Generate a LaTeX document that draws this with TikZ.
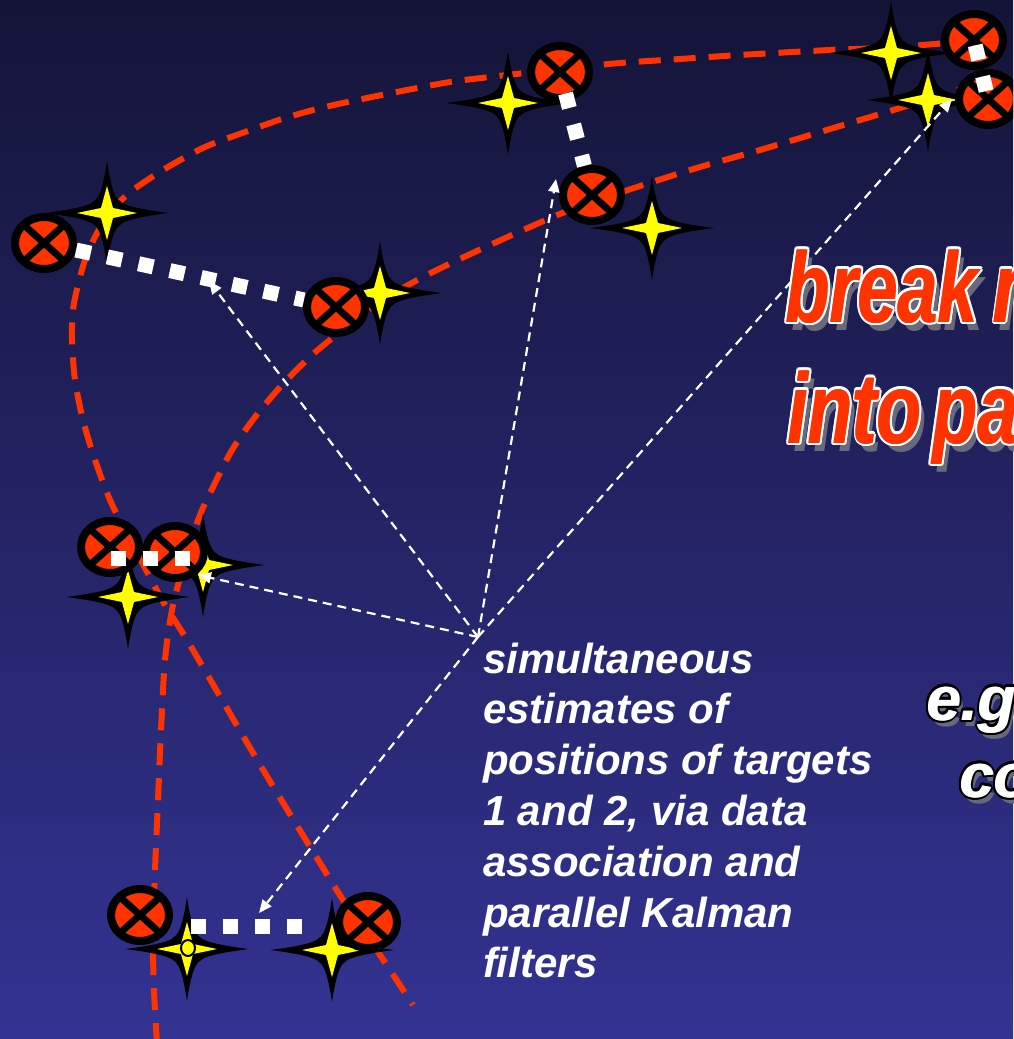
\documentclass[tikz,border=0pt]{standalone}
\usepackage{fontspec}
\setsansfont{Liberation Sans}
\usetikzlibrary{shapes.geometric,arrows.meta,calc}
\definecolor{tred}{RGB}{255,51,0}
\definecolor{bgtop}{RGB}{20,20,56}
\definecolor{bgbot}{RGB}{51,51,147}
\definecolor{shd}{RGB}{105,105,125}
\definecolor{tyel}{RGB}{255,255,0}
\newcommand\brkfont{\fontsize{100}{100}\selectfont\sffamily\bfseries\itshape}
\newcommand\egfont{\fontsize{62}{62}\selectfont\sffamily\bfseries\itshape}
\newcommand\notefont{\fontsize{42}{50.8}\selectfont\sffamily\bfseries\itshape}
\newcommand\brktext{\brkfont\scalebox{0.72}[1]{break\hspace{22pt}m}}
\newcommand\intotext{\brkfont\scalebox{0.73}[1]{into\hspace{16pt}pa}}
\begin{document}
\begin{tikzpicture}[x=1pt,y=-1pt,
  track/.style={draw=tred,line width=6pt,dash pattern=on 22pt off 13pt},
  target/.style={ellipse,draw=black,line width=8pt,fill=tred,minimum width=58pt,minimum height=52pt,inner sep=0pt,
    path picture={\draw[black,line width=7pt]
      (path picture bounding box.north west) -- (path picture bounding box.south east)
      (path picture bounding box.north east) -- (path picture bounding box.south west);}},
  sqdots/.style={draw=white,line width=15pt,dash pattern=on 15pt off 17pt},
  est/.style={draw=white,line width=2.2pt,dash pattern=on 9pt off 6pt,-{Triangle[length=13pt,width=11pt]}},
  sparkle/.pic={
    \fill[black] (62,0) .. controls (30,-4) and (16,-8) .. (13,-12) .. controls (8,-15) and (4,-25) .. (0,-52)
      .. controls (-4,-25) and (-8,-15) .. (-13,-12) .. controls (-16,-8) and (-30,-4) .. (-62,0)
      .. controls (-30,4) and (-16,8) .. (-13,12) .. controls (-8,15) and (-4,25) .. (0,52)
      .. controls (4,25) and (8,15) .. (13,12) .. controls (16,8) and (30,4) .. (62,0) -- cycle;
    \fill[tyel] (30,0) -- (6,-5) -- (0,-27) -- (-6,-5) -- (-30,0) -- (-6,5) -- (0,27) -- (6,5) -- cycle;
  },
  txt/.style={anchor=base west,inner sep=0pt,outer sep=0pt}
]
\useasboundingbox (0,0) rectangle (1013,1039);
\begin{scope}
\clip (0,0) rectangle (1013,1039);
\shade[top color=bgtop,bottom color=bgbot] (0,0) rectangle (1013,1039);

% red dashed tracks
\draw[track] plot[smooth] coordinates {(975,40) (935,44) (880,48) (830,50) (740,55) (680,59) (620,63) (560,69) (490,77) (450,82) (407,90) (367,98) (325,107) (285,118) (245,132) (205,147) (168,167) (133,190) (110,212) (95,237) (85,260) (78,285) (73,310) (72,340) (75,380) (83,420) (95,460) (110,500) (125,530) (145,568) (165,605) (190,645) (262,768) (343,900) (380,955) (413,1005)};
\draw[track] plot[smooth] coordinates {(157,1045) (154,990) (153,940) (155,870) (158,800) (161,730) (165,660) (172,610) (185,560) (200,515) (215,483) (232,450) (255,417) (282,385) (312,355) (345,328) (378,303) (410,284) (445,266) (490,245) (530,227) (570,210) (637,187) (700,167) (760,150) (840,126) (900,108) (940,95) (965,88)};

% stars
\pic (s1) at (107,213) {sparkle};
\pic (s2) at (380,293) {sparkle};
\pic (s3) at (508,103) {sparkle};
\pic (s4) at (652,228) {sparkle};
\pic (s5) at (891,53) {sparkle};
\pic (s6) at (928,100) {sparkle};
\pic (s7) at (128,597) {sparkle};
\pic (s8) at (203,565) {sparkle};
\pic (s9) at (187,949) {sparkle};
\pic (s10) at (332,950) {sparkle};
\node[ellipse,fill=tyel,draw=black,line width=2pt,minimum width=14pt,minimum height=16pt,inner sep=0pt] (s9dot) at (188,948) {};

% targets
\node[target] (c1) at (44,243) {};
\node[target] (c2) at (336,307) {};
\node[target] (c3) at (560,72) {};
\node[target] (c4) at (592,195) {};
\node[target] (c5) at (974,40) {};
\node[target] (c6) at (988,99) {};
\node[target] (c7) at (110,547) {};
\node[target] (c8) at (175,552) {};
\node[target] (c9) at (140,915) {};
\node[target] (c10) at (368,922) {};

% estimate arrows
\coordinate (hub) at (478,637);
\coordinate (e1) at (209,281);
\coordinate (e2) at (198,575);
\coordinate (e3) at (556,179);
\coordinate (e4) at (952,99);
\coordinate (e5) at (259,913);
\draw[est] (hub) -- (e1);
\draw[est] (hub) -- (e2);
\draw[est] (hub) -- (e3);
\draw[est] (hub) -- (e4);
\draw[est] (hub) -- (e5);

% square-dotted association lines
\draw[sqdots] (c1) -- (c2);
\draw[sqdots,shorten <=-8pt] (c3) -- (c4);
\draw[sqdots,dash phase=26.5pt] (c5.center) -- (c6.center);
\draw[sqdots] ([shift={(0.5,11)}]c7.center) -- ([shift={(15,6)}]c8.center);
\draw[sqdots] ([shift={(50.5,11)}]c9.center) -- ([shift={(-66.5,4)}]c10.center);

% note text
\node[txt,text=white] (note) at (483,673) {\notefont\parbox[t]{520pt}{\raggedright
simultaneous\\
estimates of\\
positions of targets\\
1 and 2, via data\\
association and\\
parallel Kalman\\
filters}};

% big red title text
\node[txt,text=shd] (brkshd) at (791,330) {\brktext};
\node[txt,text=shd] (intshd) at (793,451) {\intotext};
\foreach \a in {0,30,...,330}{
  \node[txt,text=white] (brko\a) at ($(785.75,322)+(\a:2.6)$) {\brktext};
  \node[txt,text=white] (into\a) at ($(787.75,443)+(\a:2.6)$) {\intotext};
}
\foreach \d in {0,0.75,1.5}{
  \node[txt,text=tred] (brk\d) at ($(785,322)+(\d,0)$) {\brktext};
  \node[txt,text=tred] (int\d) at ($(787,443)+(\d,0)$) {\intotext};
}

% e.g. text
\node[txt,text=shd] (egshd) at (930,726) {\egfont e.g.};
\node[txt,text=shd] (coshd) at (963,803) {\egfont co};
\foreach \a in {0,30,...,330}{
  \node[txt,text=black] (ego\a) at ($(926.5,720)+(\a:2.5)$) {\egfont e.g.};
  \node[txt,text=black] (coo\a) at ($(959.5,797)+(\a:2.5)$) {\egfont co};
}
\foreach \d in {0,1}{
  \node[txt,text=white] (eg\d) at ($(926,720)+(\d,0)$) {\egfont e.g.};
  \node[txt,text=white] (co\d) at ($(959,797)+(\d,0)$) {\egfont co};
}
\end{scope}
\end{tikzpicture}
\end{document}
